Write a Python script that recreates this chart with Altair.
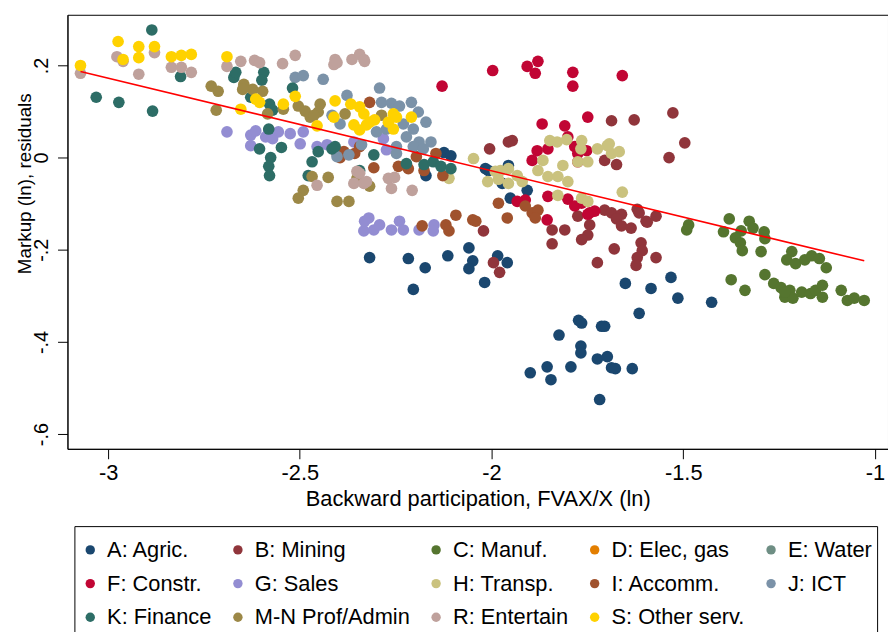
import altair as alt
import pandas as pd

groups = ["A: Agric.", "B: Mining", "C: Manuf.", "D: Elec, gas", "E: Water",
          "F: Constr.", "G: Sales", "H: Transp.", "I: Accomm.", "J: ICT",
          "K: Finance", "M-N Prof/Admin", "R: Entertain", "S: Other serv."]
colors = ["#1a476f", "#90353b", "#55752f", "#e37e00", "#6e8e84",
          "#c10534", "#938dd2", "#cac27e", "#a0522d", "#7b92a8",
          "#2d6d66", "#9c8847", "#bfa19c", "#ffd200"]

agric = [(-2.171,-0.039),(-2.124,0.011),(-2.106,0.004),(-2.016,-0.024),(-2.008,-0.028),(-1.956,-0.017),
         (-1.972,-0.056),(-1.907,-0.071),(-1.951,-0.088),(-1.984,-0.213),(-1.959,-0.228),(-2.318,-0.217),
         (-2.217,-0.219),(-2.173,-0.239),(-2.114,-0.213),(-2.059,-0.196),(-2.049,-0.224),(-2.059,-0.241),
         (-2.018,-0.271),(-2.204,-0.286),(-1.773,-0.353),(-1.765,-0.359),(-1.824,-0.385),(-1.713,-0.366),
         (-1.767,-0.409),(-1.767,-0.424),(-1.724,-0.437),(-1.698,-0.432),(-1.687,-0.456),(-1.793,-0.454),
         (-1.855,-0.454),(-1.899,-0.467),(-1.845,-0.482),(-1.718,-0.525),(-1.677,-0.458),(-1.633,-0.458),
         (-1.705,-0.366),(-1.651,-0.273),(-1.584,-0.284),(-1.532,-0.260),(-1.514,-0.305),(-1.615,-0.338),
         (-1.426,-0.314)]
mining = [(-2.005,0.019),(-1.956,0.034),(-1.946,0.037),(-1.687,0.080),(-1.705,-0.006),(-1.705,-0.114),
          (-1.687,-0.120),(-1.842,-0.157),(-1.809,-0.157),(-1.744,-0.146),(-1.749,-0.168),(-2.021,-0.159),
          (-1.765,-0.178),(-1.674,-0.015),(-1.537,0.000),(-1.775,-0.127),(-1.661,-0.123),(-1.674,-0.133),
          (-1.661,-0.148),(-1.636,-0.153),(-1.620,-0.112),(-1.597,-0.138),(-1.571,-0.127),(-1.842,-0.187),
          (-1.680,-0.198),(-1.610,-0.185),(-1.607,-0.202),(-1.620,-0.217),(-1.571,-0.217),(-1.724,-0.228),
          (-1.995,-0.228),(-1.979,-0.249),(-1.628,0.082),(-1.527,0.097),(-1.496,0.032),(-1.615,-0.120),
          (-1.594,-0.140),(-1.623,-0.234)]
manuf = [(-1.486,-0.146),(-1.491,-0.157),(-1.380,-0.133),(-1.395,-0.161),(-1.349,-0.159),(-1.328,-0.138),
         (-1.318,-0.153),(-1.289,-0.161),(-1.364,-0.174),(-1.351,-0.185),(-1.346,-0.202),(-1.297,-0.204),
         (-1.287,-0.176),(-1.217,-0.204),(-1.230,-0.222),(-1.207,-0.230),(-1.183,-0.222),(-1.165,-0.213),
         (-1.145,-0.219),(-1.127,-0.239),(-1.375,-0.265),(-1.339,-0.288),(-1.287,-0.254),(-1.264,-0.273),
         (-1.245,-0.282),(-1.222,-0.288),(-1.235,-0.303),(-1.214,-0.305),(-1.191,-0.292),(-1.168,-0.295),
         (-1.155,-0.288),(-1.137,-0.277),(-1.137,-0.303),(-1.088,-0.288),(-1.072,-0.310),(-1.054,-0.305),
         (-1.028,-0.310),(-1.235,-0.292)]
elec = []
water = []
constr = [(-2.129,0.155),(-1.997,0.189),(-1.907,0.198),(-1.879,0.209),(-1.886,0.183),(-1.788,0.185),
          (-1.788,0.155),(-1.659,0.178),(-1.868,0.073),(-1.809,0.069),(-1.749,0.088),(-1.881,0.015),
          (-1.894,-0.006),(-1.801,0.045),(-1.783,0.024),(-1.752,0.015),(-1.775,0.009),(-1.853,-0.084),
          (-1.912,-0.092),(-1.933,-0.095),(-1.855,-0.135),(-1.765,-0.099),(-1.744,-0.120),(-1.731,-0.116),
          (-1.853,0.019),(-1.775,-0.009),(-1.801,-0.090),(-1.783,-0.105),(-1.749,-0.123)]
sales = [(-2.690,0.056),(-2.628,0.049),(-2.615,0.058),(-2.581,0.058),(-2.556,0.056),(-2.525,0.052),
         (-2.491,0.056),(-2.628,0.026),(-2.589,0.045),(-2.571,0.041),(-2.499,0.030),(-2.455,0.024),
         (-2.429,0.028),(-2.359,0.034),(-2.282,0.041),(-2.274,0.017),(-2.320,-0.131),(-2.333,-0.159),
         (-2.307,-0.157),(-2.292,-0.146),(-2.261,-0.157),(-2.240,-0.138),(-2.230,-0.157),(-2.189,-0.157),
         (-2.150,-0.146),(-2.152,-0.159),(-2.331,-0.138)]
transp = [(-2.047,-0.002),(-2.010,-0.052),(-1.977,-0.028),(-1.956,-0.024),(-1.933,-0.039),(-1.920,-0.052),
          (-1.956,-0.056),(-1.990,-0.030),(-2.111,-0.045),(-1.848,0.037),(-1.829,0.034),(-1.804,0.039),
          (-1.765,0.037),(-1.767,0.019),(-1.724,0.019),(-1.698,0.026),(-1.687,0.009),(-1.775,-0.009),
          (-1.749,-0.009),(-1.866,-0.006),(-1.879,-0.028),(-1.814,-0.017),(-1.853,-0.041),(-1.827,-0.041),
          (-1.801,-0.052),(-1.827,-0.082),(-1.765,-0.088),(-1.749,-0.095),(-1.659,-0.075),(-1.667,0.013),
          (-1.693,0.030),(-1.982,-0.047)]
accomm = [(-2.318,0.120),(-2.403,0.009),(-2.395,0.000),(-2.357,0.009),(-2.307,-0.022),(-2.243,-0.019),
          (-2.217,-0.024),(-2.176,-0.028),(-2.127,-0.039),(-2.145,0.009),(-2.196,0.002),(-1.982,-0.099),
          (-1.959,-0.131),(-2.093,-0.125),(-2.049,-0.135),(-2.119,-0.146),(-2.111,-0.159),(-2.181,-0.148),
          (-1.894,-0.120),(-1.912,-0.105),(-1.879,-0.114),(-1.886,-0.131),(-2.041,-0.138),(-2.344,0.024),
          (-2.385,0.013)]
ict = [(-2.512,0.174),(-2.491,0.178),(-2.439,0.170),(-2.377,0.135),(-2.416,0.092),(-2.395,0.073),
       (-2.339,0.028),(-2.372,0.006),(-2.292,0.151),(-2.287,0.120),(-2.261,0.118),(-2.240,0.112),
       (-2.209,0.120),(-2.191,0.099),(-2.171,0.077),(-2.230,0.073),(-2.204,0.062),(-2.222,0.045),
       (-2.189,0.034),(-2.158,0.034),(-2.204,0.024),(-2.178,0.019),(-2.248,0.024),(-2.274,0.062),
       (-2.300,0.056),(-2.403,0.002),(-2.248,0.009)]
finance = [(-2.886,0.277),(-3.031,0.131),(-2.972,0.120),(-2.884,0.101),(-2.811,0.176),(-2.672,0.174),
           (-2.667,0.185),(-2.594,0.185),(-2.599,0.168),(-2.519,0.151),(-2.628,0.131),(-2.579,0.116),
           (-2.571,0.103),(-2.581,0.062),(-2.605,0.019),(-2.548,0.022),(-2.576,0.000),(-2.581,-0.019),
           (-2.579,-0.039),(-2.468,-0.009),(-2.452,0.013),(-2.416,0.019),(-2.408,0.024),(-2.478,-0.039),
           (-2.307,0.006),(-2.222,-0.013),(-2.176,-0.015),(-2.152,-0.009),(-2.132,-0.019),(-2.106,-0.024),
           (-2.344,-0.028)]
profadmin = [(-2.731,0.155),(-2.713,0.144),(-2.718,0.103),(-2.646,0.159),(-2.623,0.148),(-2.597,0.144),
             (-2.649,0.148),(-2.584,0.095),(-2.543,0.105),(-2.504,0.112),(-2.486,0.101),(-2.473,0.088),
             (-2.447,0.116),(-2.452,0.099),(-2.382,0.095),(-2.463,0.092),(-2.468,-0.041),(-2.426,-0.043),
             (-2.491,-0.071),(-2.504,-0.088),(-2.403,-0.095),(-2.372,-0.095),(-2.318,-0.062),(-2.287,0.092),
             (-2.351,-0.045)]
entertain = [(-3.072,0.183),(-2.977,0.219),(-2.961,0.209),(-2.920,0.181),(-2.879,0.228),(-2.835,0.196),
             (-2.809,0.196),(-2.783,0.185),(-2.690,0.198),(-2.654,0.209),(-2.618,0.211),(-2.605,0.206),
             (-2.545,0.204),(-2.512,0.222),(-2.411,0.202),(-2.408,0.213),(-2.364,0.213),(-2.344,0.224),
             (-2.333,0.213),(-2.331,0.209),(-2.403,0.206),(-2.351,-0.030),(-2.359,-0.056),(-2.344,-0.034),
             (-2.333,-0.056),(-2.326,-0.052),(-2.269,-0.045),(-2.253,-0.043),(-2.261,-0.067),(-2.207,-0.071),
             (-2.455,-0.060)]
otherserv = [(-3.072,0.200),(-2.974,0.252),(-2.920,0.241),(-2.879,0.241),(-2.961,0.213),(-2.920,0.217),
             (-2.835,0.219),(-2.809,0.222),(-2.783,0.224),(-2.690,0.219),(-2.615,0.127),(-2.654,0.105),
             (-2.543,0.116),(-2.512,0.133),(-2.455,0.069),(-2.408,0.123),(-2.411,0.088),(-2.367,0.116),
             (-2.344,0.110),(-2.359,0.071),(-2.344,0.060),(-2.333,0.095),(-2.318,0.077),(-2.305,0.082),
             (-2.326,0.071),(-2.256,0.095),(-2.269,0.077),(-2.256,0.062),(-2.209,0.088),(-2.248,0.088),
             (-2.605,0.120)]

series = [agric, mining, manuf, elec, water, constr, sales, transp, accomm, ict,
          finance, profadmin, entertain, otherserv]

fit_x = [-3.072, -1.028]
fit_y = [0.187, -0.224]

x_ticks = [-3, -2.5, -2, -1.5, -1]
y_ticks = [0.2, 0, -0.2, -0.4, -0.6]

rows = []
for i, (g, pts) in enumerate(zip(groups, series)):
    for (x, y) in pts:
        rows.append({"x": x, "y": y, "sector": g, "ord": i})
df = pd.DataFrame(rows)
fit_df = pd.DataFrame({"x": fit_x, "y": fit_y})

FONT = "Liberation Sans, Arial, sans-serif"
FS = 22

xscale = alt.Scale(domain=[-3.106, -0.966], nice=False, zero=False)
yscale = alt.Scale(domain=[-0.632, 0.31], nice=False, zero=False)

points = alt.Chart(df).mark_circle(size=138, opacity=1).encode(
    x=alt.X("x:Q", scale=xscale,
            axis=alt.Axis(values=x_ticks, title="Backward participation, FVAX/X (ln)",
                          labelExpr="replace(format(datum.value, '~g'), '\u2212', '-')",
                          tickSize=10, labelPadding=4, titlePadding=5, grid=False,
                          labelFontSize=FS, titleFontSize=FS, labelFont=FONT, titleFont=FONT,
                          titleFontWeight="normal", labelColor="black", titleColor="black",
                          domainColor="black", tickColor="black", labelFlush=False)),
    y=alt.Y("y:Q", scale=yscale,
            axis=alt.Axis(values=y_ticks, title="Markup (ln), residuals",
                          labelExpr="replace(replace(format(datum.value, '~g'), '\u2212', '-'), '0.', '.')",
                          labelAngle=270, labelAlign="center", labelBaseline="bottom",
                          tickSize=10, labelPadding=6, grid=False,
                          titleX=-33, titleY=170, titleAlign="center", titleAngle=270,
                          labelFontSize=20, titleFontSize=19, labelFont=FONT, titleFont=FONT,
                          titleFontWeight="normal", labelColor="black", titleColor="black",
                          domainColor="black", tickColor="black", labelFlush=False)),
    color=alt.Color("sector:N", scale=alt.Scale(domain=groups, range=colors),
                    legend=alt.Legend(title=" ", titleFontSize=1, titlePadding=7,
                                      orient="none", legendX=7, legendY=516,
                                      columns=5, direction="horizontal",
                                      symbolType="circle", symbolSize=90, symbolStrokeWidth=0,
                                      symbolOpacity=1,
                                      labelFontSize=FS, labelFont=FONT, labelColor="black",
                                      labelOffset=6, rowPadding=12, columnPadding=15,
                                      padding=5, strokeColor="black", fillColor="white",
                                      labelLimit=400)),
    order=alt.Order("ord:Q"),
)

fit = alt.Chart(fit_df).mark_line(color="#ff0000", strokeWidth=1.6).encode(
    x=alt.X("x:Q", scale=xscale),
    y=alt.Y("y:Q", scale=yscale),
)

chart = alt.layer(points, fit).properties(
    width=828, height=438,
    autosize=alt.AutoSizeParams(type="none"),
    padding={"left": 60, "top": 4, "right": 0, "bottom": 182},
    background="white",
).configure_view(stroke="black", strokeWidth=1)

chart.save("out.html", embed_options={"renderer": "svg", "actions": False})
